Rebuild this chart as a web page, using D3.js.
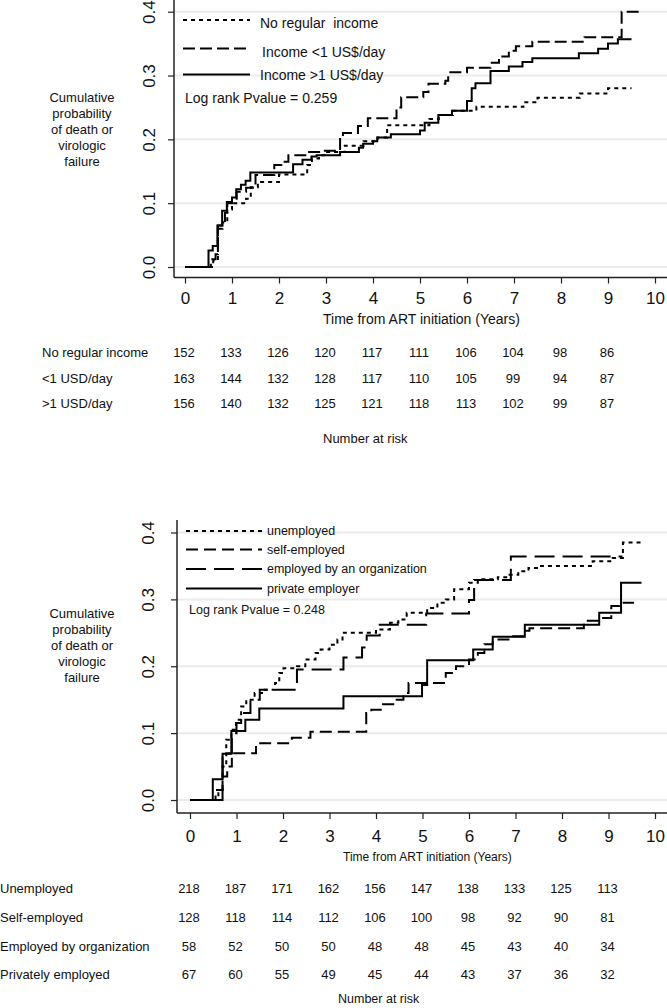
<!DOCTYPE html>
<html>
<head>
<meta charset="utf-8">
<script src="https://cdn.jsdelivr.net/npm/d3@7"></script>
<style>
  html, body { margin: 0; padding: 0; background: #fff; }
  svg { display: block; }
  text { font-family: "Liberation Sans", Arial, Helvetica, sans-serif; fill: #111; }
</style>
</head>
<body>
<svg id="chart" width="667" height="1008"></svg>
<script>
// ---------------- DATA ----------------
const xTicks = [0, 1, 2, 3, 4, 5, 6, 7, 8, 9, 10];
const yTicks = [0, 0.1, 0.2, 0.3, 0.4];
const riskTimes = [0, 1, 2, 3, 4, 5, 6, 7, 8, 9];

// Top panel: income
const incomeLabels = ["No regular  income", "Income <1 US$/day", "Income >1 US$/day"];
const incomeRiskLabels = ["No regular income", "<1 USD/day", ">1 USD/day"];
const incomeRisk = [
  [152, 133, 126, 120, 117, 111, 106, 104, 98, 86],
  [163, 144, 132, 128, 117, 110, 105, 99, 94, 87],
  [156, 140, 132, 125, 121, 118, 113, 102, 99, 87]
];
const noIncomeT = [0, 0.6, 0.7, 0.8, 0.9, 1.0, 1.3, 1.4, 1.55, 2.0, 2.6, 2.7, 2.85, 3.0, 3.4, 3.8, 4.1, 4.3, 5.2, 5.4, 5.7, 6.2, 7.2, 7.5, 8.4, 9.0, 9.5];
const noIncomeV = [0, 0.01, 0.06, 0.07, 0.09, 0.1, 0.107, 0.125, 0.133, 0.145, 0.16, 0.17, 0.175, 0.18, 0.19, 0.197, 0.203, 0.222, 0.232, 0.238, 0.245, 0.251, 0.258, 0.265, 0.272, 0.28, 0.28];
const lowIncomeT = [0, 0.55, 0.65, 0.7, 0.85, 0.9, 1.0, 1.1, 1.3, 1.5, 1.9, 2.05, 2.2, 2.6, 2.9, 3.3, 3.36, 3.68, 3.89, 4.5, 4.6, 5.07, 5.18, 5.54, 5.6, 6.0, 6.5, 6.68, 6.89, 7.04, 7.39, 8.5, 9.29, 9.71];
const lowIncomeV = [0, 0.012, 0.02, 0.065, 0.085, 0.1, 0.105, 0.118, 0.124, 0.144, 0.16, 0.165, 0.175, 0.18, 0.182, 0.205, 0.21, 0.221, 0.233, 0.25, 0.266, 0.274, 0.287, 0.292, 0.305, 0.312, 0.32, 0.33, 0.339, 0.346, 0.353, 0.36, 0.4, 0.4];
const highIncomeT = [0, 0.5, 0.59, 0.69, 0.79, 0.89, 1.0, 1.09, 1.19, 1.29, 1.39, 2.3, 2.5, 2.69, 2.8, 3.3, 3.7, 3.79, 4.0, 4.09, 4.38, 5.0, 5.1, 5.39, 5.68, 6.0, 6.1, 6.18, 6.5, 6.89, 7.18, 7.39, 8.38, 8.79, 9.0, 9.21, 9.5];
const highIncomeV = [0, 0.026, 0.033, 0.065, 0.088, 0.102, 0.109, 0.122, 0.129, 0.135, 0.148, 0.161, 0.168, 0.173, 0.175, 0.18, 0.187, 0.193, 0.197, 0.203, 0.208, 0.214, 0.226, 0.238, 0.245, 0.26, 0.28, 0.288, 0.307, 0.314, 0.321, 0.327, 0.335, 0.342, 0.35, 0.357, 0.357];

// Bottom panel: employment
const employLabels = ["unemployed", "self-employed", "employed by an organization", "private employer"];
const employRiskLabels = ["Unemployed", "Self-employed", "Employed by organization", "Privately employed"];
const employRisk = [
  [218, 187, 171, 162, 156, 147, 138, 133, 125, 113],
  [128, 118, 114, 112, 106, 100, 98, 92, 90, 81],
  [58, 52, 50, 50, 48, 48, 45, 43, 40, 34],
  [67, 60, 55, 49, 45, 44, 43, 37, 36, 32]
];
const unemployedT = [0, 0.61, 0.7, 0.78, 0.89, 0.99, 1.1, 1.21, 1.39, 1.61, 1.83, 1.92, 2.01, 2.3, 2.48, 2.7, 2.81, 3.0, 3.17, 3.28, 4.0, 4.3, 4.48, 4.66, 5.1, 5.32, 5.5, 5.68, 6.0, 6.19, 6.62, 6.8, 7.06, 7.28, 7.49, 8.66, 9.09, 9.31, 9.71];
const unemployedV = [0, 0.015, 0.05, 0.09, 0.105, 0.12, 0.14, 0.15, 0.16, 0.165, 0.175, 0.19, 0.197, 0.2, 0.21, 0.22, 0.225, 0.232, 0.24, 0.25, 0.255, 0.265, 0.27, 0.28, 0.287, 0.295, 0.3, 0.315, 0.325, 0.33, 0.333, 0.337, 0.342, 0.347, 0.35, 0.357, 0.362, 0.385, 0.385];
const selfEmpT = [0, 0.55, 0.7, 0.8, 0.9, 1.42, 2.19, 2.59, 3.79, 3.9, 4.15, 4.37, 4.59, 4.7, 5.5, 5.72, 6.0, 6.19, 6.33, 6.51, 6.88, 7.2, 7.3, 8.47, 8.8, 9.06, 9.24, 9.55];
const selfEmpV = [0, 0.015, 0.035, 0.05, 0.07, 0.085, 0.093, 0.102, 0.13, 0.135, 0.143, 0.15, 0.16, 0.175, 0.19, 0.2, 0.21, 0.22, 0.233, 0.24, 0.245, 0.253, 0.257, 0.268, 0.272, 0.29, 0.295, 0.295];
const orgEmpT = [0, 0.7, 0.9, 1.0, 1.1, 1.3, 1.5, 2.3, 3.3, 3.7, 3.8, 4.08, 5.08, 6.0, 6.11, 6.9, 9.3];
const orgEmpV = [0, 0.07, 0.1, 0.115, 0.13, 0.15, 0.165, 0.195, 0.213, 0.228, 0.246, 0.262, 0.279, 0.299, 0.329, 0.364, 0.364];
const privateEmpT = [0, 0.49, 0.7, 0.89, 1.19, 1.49, 3.3, 4.99, 5.1, 6.09, 6.51, 7.2, 8.8, 9.27, 9.71];
const privateEmpV = [0, 0.031, 0.069, 0.103, 0.12, 0.137, 0.155, 0.172, 0.209, 0.225, 0.244, 0.262, 0.28, 0.325, 0.325];

// ---------------- DRAW ----------------
const svg = d3.select("#chart");
svg.append("rect").attr("width", 667).attr("height", 1008).attr("fill", "#fff");

function zipTV(t, v) { return t.map((d, i) => ({ t: d, v: v[i] })); }

function panel(cfg) {
  const g = svg.append("g");
  const x = d3.scaleLinear().domain([0, 10]).range(cfg.xRange);
  const y = d3.scaleLinear().domain([0, 0.4]).range(cfg.yRange);

  // gridlines
  g.selectAll("line.grid").data(yTicks).join("line")
    .attr("x1", cfg.axisX).attr("x2", 667)
    .attr("y1", d => y(d)).attr("y2", d => y(d))
    .attr("stroke", "#ebebeb").attr("stroke-width", 2);

  // x axis
  const xa = g.append("g").attr("transform", `translate(0,${cfg.axisY})`)
    .call(d3.axisBottom(x).tickValues(xTicks).tickFormat(d3.format("d")).tickSize(6).tickPadding(cfg.xPad));
  xa.select(".domain").remove();
  xa.selectAll(".tick line").attr("stroke", "#222").attr("stroke-width", 1.2);
  xa.selectAll(".tick text").attr("font-size", 17).attr("font-family", "Liberation Sans, Arial, sans-serif").attr("fill", "#111");

  // y axis
  const ya = g.append("g").attr("transform", `translate(${cfg.axisX},0)`)
    .call(d3.axisLeft(y).tickValues(yTicks).tickFormat(d3.format(".1f")).tickSize(6));
  ya.select(".domain").remove();
  ya.selectAll(".tick line").attr("stroke", "#222").attr("stroke-width", 1.2);
  ya.selectAll(".tick text")
    .attr("x", null).attr("dy", null)
    .attr("text-anchor", "middle")
    .attr("dominant-baseline", "central")
    .attr("transform", `translate(${cfg.yLabelOff},0) rotate(-90)`)
    .attr("font-size", 17).attr("font-family", "Liberation Sans, Arial, sans-serif").attr("fill", "#111");

  // axis lines (L-shape)
  g.append("line").attr("x1", cfg.axisX).attr("x2", cfg.axisX).attr("y1", cfg.axisTop).attr("y2", cfg.axisY)
    .attr("stroke", "#222").attr("stroke-width", 1.5);
  g.append("line").attr("x1", cfg.axisX).attr("x2", 667).attr("y1", cfg.axisY).attr("y2", cfg.axisY)
    .attr("stroke", "#222").attr("stroke-width", 1.5);

  // curves
  const line = d3.line().x(d => x(d.t)).y(d => y(d.v)).curve(d3.curveStepAfter);
  cfg.series.forEach(s => {
    g.append("path").datum(zipTV(s.t, s.v))
      .attr("d", line).attr("fill", "none").attr("stroke", "#000")
      .attr("stroke-width", 2).attr("stroke-dasharray", s.dash);
  });

  // legend
  cfg.series.forEach((s, i) => {
    const ly = cfg.legendY[i];
    g.append("line").attr("x1", cfg.legendX[0]).attr("x2", cfg.legendX[1]).attr("y1", ly).attr("y2", ly)
      .attr("stroke", "#000").attr("stroke-width", 2).attr("stroke-dasharray", s.dash);
    g.append("text").attr("x", cfg.legendTextX[i]).attr("y", cfg.legendTextY[i])
      .attr("dominant-baseline", "central").attr("font-size", cfg.legendFont)
      .attr("xml:space", "preserve").style("white-space", "pre")
      .text(s.label);
  });
  g.append("text").attr("x", cfg.pvalX).attr("y", cfg.pvalY).attr("dominant-baseline", "central")
    .attr("font-size", cfg.legendFont).text(cfg.pval);

  // y title
  cfg.yTitle.forEach((t, i) => {
    g.append("text").attr("x", 82).attr("y", cfg.yTitleY + i * 16).attr("text-anchor", "middle")
      .attr("dominant-baseline", "central").attr("font-size", 13).text(t);
  });

  // x title
  g.append("text").attr("x", cfg.xTitleX).attr("y", cfg.xTitleY).attr("dominant-baseline", "central")
    .attr("font-size", cfg.xTitleFont).text("Time from ART initiation (Years)");

  // risk table
  cfg.riskLabels.forEach((lab, i) => {
    const ry = cfg.riskY[i];
    g.append("text").attr("x", cfg.riskLabelX).attr("y", ry).attr("dominant-baseline", "central")
      .attr("font-size", 13).text(lab);
    g.selectAll(null).data(cfg.risk[i]).join("text")
      .attr("x", (d, j) => x(riskTimes[j]) - 1).attr("y", ry)
      .attr("text-anchor", "middle").attr("dominant-baseline", "central")
      .attr("font-size", 13).text(d => d);
  });
  g.append("text").attr("x", cfg.nrX).attr("y", cfg.nrY).attr("dominant-baseline", "central")
    .attr("font-size", cfg.nrFont).text("Number at risk");
}

const yTitleLines = ["Cumulative", "probability", "of death or", "virologic", "failure"];

panel({
  xRange: [185, 655], yRange: [267, 11.7],
  axisX: 174, axisY: 277.5, axisTop: 0, xPad: 8, yLabelOff: -25,
  series: [
    { t: noIncomeT, v: noIncomeV, dash: "4,4", label: incomeLabels[0] },
    { t: lowIncomeT, v: lowIncomeV, dash: "12,5", label: incomeLabels[1] },
    { t: highIncomeT, v: highIncomeV, dash: null, label: incomeLabels[2] }
  ],
  legendX: [183, 250], legendY: [20, 48.5, 74.5],
  legendTextX: [260, 262, 260], legendTextY: [22.5, 52, 74.5], legendFont: 14,
  pval: "Log rank Pvalue = 0.259", pvalX: 185, pvalY: 98,
  yTitle: yTitleLines, yTitleY: 97,
  xTitleX: 323, xTitleY: 319, xTitleFont: 14,
  riskLabels: incomeRiskLabels, risk: incomeRisk, riskY: [352, 378, 403], riskLabelX: 42,
  nrX: 323, nrY: 438, nrFont: 13
});

panel({
  xRange: [190, 655], yRange: [800, 532.5],
  axisX: 177, axisY: 813, axisTop: 520, xPad: 11, yLabelOff: -29,
  series: [
    { t: unemployedT, v: unemployedV, dash: "4,4", label: employLabels[0] },
    { t: selfEmpT, v: selfEmpV, dash: "12,6", label: employLabels[1] },
    { t: orgEmpT, v: orgEmpV, dash: "20,8", label: employLabels[2] },
    { t: privateEmpT, v: privateEmpV, dash: null, label: employLabels[3] }
  ],
  legendX: [186, 262], legendY: [531, 549.5, 569, 588.5],
  legendTextX: [267, 267, 267, 267], legendTextY: [531, 549.5, 569, 588.5], legendFont: 12.5,
  pval: "Log rank Pvalue = 0.248", pvalX: 189, pvalY: 610,
  yTitle: yTitleLines, yTitleY: 613,
  xTitleX: 343, xTitleY: 857, xTitleFont: 12,
  riskLabels: employRiskLabels, risk: employRisk, riskY: [888, 917, 946, 974], riskLabelX: 0,
  nrX: 338, nrY: 999, nrFont: 12.5
});
</script>
</body>
</html>
